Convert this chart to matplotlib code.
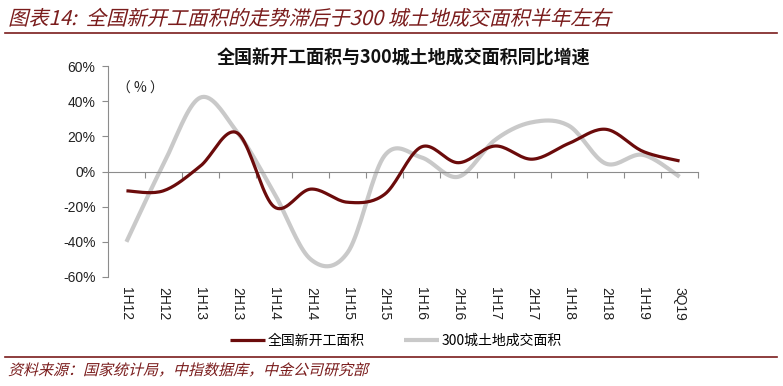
import numpy as np
import matplotlib
matplotlib.use("Agg")
import matplotlib.pyplot as plt
from matplotlib.textpath import TextPath
from matplotlib.patches import PathPatch
from matplotlib.font_manager import FontProperties
from matplotlib.transforms import Affine2D

plt.rcParams['font.family'] = ['Noto Sans CJK SC', 'DejaVu Sans']

categories = ['1H12', '2H12', '1H13', '2H13', '1H14', '2H14', '1H15', '2H15',
              '1H16', '2H16', '1H17', '2H17', '1H18', '2H18', '1H19', '3Q19']
new_starts = [-11, -11, 3, 22, -20, -10, -17.5, -13, 14, 5, 14.5, 7, 16, 24, 11.5, 6]
land_sales = [-40, 4, 42, 22.5, -12, -50, -46, 9, 8, -3, 18, 28, 26, 4.5, 9.5, -3]
yticks = [-60, -40, -20, 0, 20, 40, 60]

RED = '#6b0b0b'
GREY = '#c9c9c9'
TITLE_RED = '#7a1c1c'
LATIN = 'Liberation Sans'


def smooth(y, n=20):
    # Catmull-Rom style smoothing, like an Excel smoothed line
    y = np.asarray(y, float)
    x = np.arange(len(y), dtype=float)
    xp = np.concatenate([[x[0]], x, [x[-1]]])
    yp = np.concatenate([[y[0]], y, [y[-1]]])
    xs, ys = [], []
    for i in range(1, len(xp) - 2):
        t = np.linspace(0, 1, n, endpoint=False)
        for arr, out in ((xp, xs), (yp, ys)):
            p0, p1, p2, p3 = arr[i - 1], arr[i], arr[i + 1], arr[i + 2]
            m1 = (p2 - p0) / 2
            m2 = (p3 - p1) / 2
            h00 = 2 * t**3 - 3 * t**2 + 1
            h10 = t**3 - 2 * t**2 + t
            h01 = -2 * t**3 + 3 * t**2
            h11 = t**3 - t**2
            out.extend(h00 * p1 + h10 * m1 + h01 * p2 + h11 * m2)
    xs.append(x[-1])
    ys.append(y[-1])
    return np.array(xs), np.array(ys)


def slanted_text(fig, x_px, y_px, s, size_pt, color, skew=14):
    # fake italic: CJK fonts have no oblique face, so skew the glyph outlines
    fp = FontProperties(family=['Noto Sans CJK SC'])
    size_px = size_pt * fig.dpi / 72
    path = TextPath((0, 0), s, size=size_px, prop=fp)
    tr = Affine2D().skew_deg(skew, 0).translate(x_px, fig.bbox.height - y_px)
    fig.add_artist(PathPatch(path, transform=tr, color=color, lw=0))


fig = plt.figure(figsize=(7.83, 3.86), dpi=100)
ax = fig.add_axes([108 / 783, 1 - 277 / 386, 590 / 783, 211 / 386])

x1, y1 = smooth(land_sales)
x2, y2 = smooth(new_starts)
ax.plot(x1, y1, color=GREY, lw=3.0, solid_capstyle='butt', label='300城土地成交面积', zorder=2)
ax.plot(x2, y2, color=RED, lw=2.3, solid_capstyle='butt', label='全国新开工面积', zorder=3)

ax.set_xlim(-0.5, len(categories) - 0.5)
ax.set_ylim(-60, 60)
ax.set_yticks(yticks)
ax.set_yticklabels([f'{v}%' for v in yticks], fontsize=10, color='#222222', family=LATIN)

for s in ['top', 'right']:
    ax.spines[s].set_visible(False)
ax.spines['left'].set_color('#8c8c8c')
ax.spines['bottom'].set_color('#8c8c8c')
ax.spines['bottom'].set_position(('data', 0))
ax.set_xticks(np.arange(len(categories)) + 0.5)
ax.set_xticklabels([])
ax.tick_params(axis='both', colors='#8c8c8c', length=4, width=0.8, direction='out')
ax.tick_params(axis='y', labelcolor='#222222', pad=5)

trans = ax.get_xaxis_transform()
for i, c in enumerate(categories):
    ax.text(i, -0.047, c, transform=trans, rotation=270, ha='center', va='top',
            fontsize=10, color='#222222', family=LATIN)

ax.text(0.015, 0.875, '（ % ）', transform=ax.transAxes, fontsize=10, color='#222222')

# legend
handles, labels = ax.get_legend_handles_labels()
fig.legend(handles[::-1], labels[::-1], loc='center', bbox_to_anchor=(396 / 783, 1 - 341 / 386),
           ncol=2, frameon=False, fontsize=10, handlelength=2.5, handletextpad=0.2,
           columnspacing=2.8)

fig.text(404 / 783, 1 - 58 / 386, '全国新开工面积与300城土地成交面积同比增速', ha='center',
         va='center', fontsize=13, fontweight='bold', color='#111111')

slanted_text(fig, 8, 25, '图表14:  全国新开工面积的走势滞后于300 城土地成交面积半年左右', 14.6, TITLE_RED)
fig.add_artist(plt.Line2D([5 / 783, 777 / 783], [1 - 32.5 / 386] * 2, color=TITLE_RED, lw=1.2))
fig.add_artist(plt.Line2D([5 / 783, 777 / 783], [1 - 357 / 386] * 2, color=TITLE_RED, lw=1.2))
slanted_text(fig, 8, 375, '资料来源：国家统计局，中指数据库，中金公司研究部', 10.8, TITLE_RED)

fig.savefig('out.png', dpi=100)
